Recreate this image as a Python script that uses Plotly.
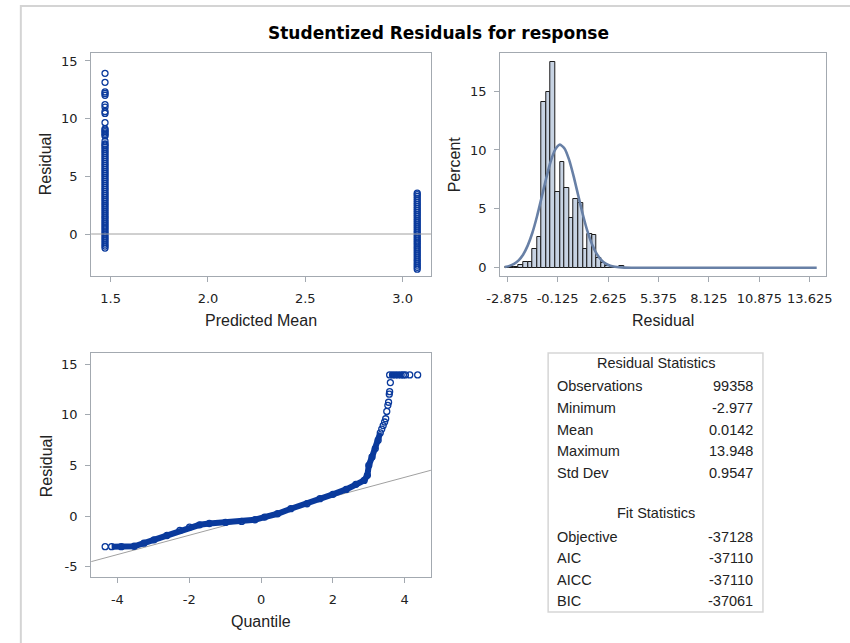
import plotly.graph_objects as go

W, H = 850, 643

# ---------------- data ----------------
pred_mean_levels = [1.471, 3.075]
resid_at_level1 = [-1.22, -1.05, -0.88, -0.70, -0.52, -0.35, -0.18, 0.00, 0.17, 0.35, 0.52, 0.70,
                   0.87, 1.05, 1.22, 1.40, 1.57, 1.75, 1.92, 2.10, 2.27, 2.45, 2.62, 2.80, 2.97,
                   3.15, 3.32, 3.50, 3.67, 3.85, 4.02, 4.20, 4.37, 4.55, 4.72, 4.90, 5.07, 5.25,
                   5.42, 5.60, 5.77, 5.95, 6.12, 6.30, 6.47, 6.65, 6.82, 7.00, 7.17, 7.35, 7.52,
                   7.70, 7.80, 8.05, 8.50, 8.62, 8.75, 8.88, 9.00, 9.12, 9.65, 10.45, 10.62,
                   11.00, 11.22, 12.02, 12.18, 12.32, 13.15, 13.93]
resid_at_level2 = [-3.05, -2.88, -2.70, -2.53, -2.35, -2.18, -2.00, -1.83, -1.65, -1.48, -1.30,
                   -1.13, -0.95, -0.78, -0.60, -0.43, -0.25, -0.08, 0.10, 0.27, 0.45, 0.62, 0.80,
                   0.97, 1.15, 1.32, 1.50, 1.67, 1.85, 2.02, 2.20, 2.37, 2.55, 2.72, 2.90, 3.07,
                   3.25, 3.42, 3.55]

hist_bin_mid = [-2.875, -2.625, -2.375, -2.125, -1.875, -1.625, -1.375, -1.125, -0.875, -0.625,
                -0.375, -0.125, 0.125, 0.375, 0.625, 0.875, 1.125, 1.375, 1.625, 1.875, 2.125,
                2.375, 2.625, 2.875, 3.125, 3.375]
hist_percent = [0.05, 0.08, 0.03, 0.22, 0.45, 0.45, 1.60, 2.63, 14.1, 14.9, 17.5, 6.45, 9.0, 6.74,
                4.2, 5.83, 5.46, 1.58, 2.86, 2.77, 0.79, 0.42, 0.14, 0.0, 0.0, 0.15]
hist_bin_width = 0.25
hist_ticks = [-2.875, -0.125, 2.625, 5.375, 8.125, 10.875, 13.625]

curve_x = [-3.0, -2.75, -2.5, -2.25, -2.0, -1.75, -1.5, -1.25, -1.0, -0.75, -0.5, -0.25, 0.0,
           0.25, 0.5, 0.75, 1.0, 1.25, 1.5, 1.75, 2.0, 2.25, 2.5, 2.75, 3.0, 3.5, 4.0, 14.0]
curve_pct = [0.07, 0.16, 0.33, 0.63, 1.13, 1.90, 2.97, 4.35, 5.94, 7.58, 9.04, 10.05, 10.45,
             10.13, 9.18, 7.76, 6.13, 4.52, 3.11, 2.00, 1.20, 0.67, 0.35, 0.17, 0.08, 0.01, 0.0, 0.0]

qq_band_q = [-4.16, -3.89, -3.53, -3.26, -2.98, -2.62, -2.26, -1.99, -1.71, -1.44, -0.99, -0.54,
             -0.17, 0.10, 0.46, 0.83, 1.28, 1.64, 2.00, 2.37, 2.64, 2.87, 2.96, 3.00, 3.09, 3.18,
             3.26, 3.32]
qq_band_r = [-3.02, -3.02, -2.98, -2.68, -2.35, -1.92, -1.42, -1.09, -0.86, -0.73, -0.63, -0.53,
             -0.36, -0.10, 0.23, 0.73, 1.22, 1.72, 2.15, 2.64, 3.14, 3.53, 4.03, 5.02, 5.85, 6.67,
             7.50, 8.23]
qq_top_q = [3.58, 3.66, 3.74, 3.82, 3.90, 3.96]
qq_top_r = [13.95, 13.95, 13.95, 13.95, 13.95, 13.95]
qq_sparse_q = [-4.34, 3.36, 3.40, 3.44, 3.47, 3.50, 3.53, 3.55, 3.57, 3.58, 3.60, 4.02, 4.14, 4.36]
qq_sparse_r = [-3.02, 8.60, 8.95, 9.30, 9.62, 10.35, 10.95, 11.25, 12.05, 12.30, 13.20, 13.95,
               13.95, 13.95]

resid_mean = 0.0142
resid_std = 0.9547

res_stat_labels = ["Observations", "Minimum", "Mean", "Maximum", "Std Dev"]
res_stat_values = ["99358", "-2.977", "0.0142", "13.948", "0.9547"]
fit_stat_labels = ["Objective", "AIC", "AICC", "BIC"]
fit_stat_values = ["-37128", "-37110", "-37110", "-37061"]

# ---------------- styling ----------------
FONT = "DejaVu Sans"
LAB_FONT = "Liberation Sans"
MARK = "#0a3a9c"
AX = "#a3a9b0"
TICK_FS = 13
TITLE_FS = 16


def px(x):
    return x / W


def py(y):
    return 1 - y / H


fig = go.Figure()

marker = dict(symbol="circle-open", size=6, color=MARK, line=dict(width=1.3, color=MARK))

# panel 1: residual vs predicted mean
fig.add_trace(go.Scatter(x=[pred_mean_levels[0]] * len(resid_at_level1), y=resid_at_level1,
                         mode="markers", marker=marker, xaxis="x", yaxis="y"))
fig.add_trace(go.Scatter(x=[pred_mean_levels[1]] * len(resid_at_level2), y=resid_at_level2,
                         mode="markers", marker=marker, xaxis="x", yaxis="y"))

# panel 2: histogram + normal curve
fig.add_trace(go.Bar(x=hist_bin_mid, y=hist_percent, width=hist_bin_width,
                     marker=dict(color="#c7d3e3", line=dict(color="#1a1a1a", width=1)),
                     xaxis="x2", yaxis="y2"))
fig.add_trace(go.Scatter(x=curve_x, y=curve_pct, mode="lines",
                         line=dict(color="#6880a6", width=2.6, shape="spline", smoothing=0.6),
                         xaxis="x2", yaxis="y2"))

# panel 3: Q-Q plot
qq_xr = [-4.73, 4.73]
fig.add_trace(go.Scatter(x=qq_xr, y=[resid_mean + resid_std * v for v in qq_xr], mode="lines",
                         line=dict(color="#a0a0a0", width=1), xaxis="x3", yaxis="y3"))
fig.add_trace(go.Scatter(x=qq_band_q, y=qq_band_r, mode="lines+markers", marker=marker,
                         line=dict(color=MARK, width=6), xaxis="x3", yaxis="y3"))
fig.add_trace(go.Scatter(x=qq_top_q, y=qq_top_r, mode="lines+markers", marker=marker,
                         line=dict(color=MARK, width=6), xaxis="x3", yaxis="y3"))
fig.add_trace(go.Scatter(x=qq_sparse_q, y=qq_sparse_r, mode="markers", marker=marker,
                         xaxis="x3", yaxis="y3"))


def labels(vals, fmt):
    return [fmt.format(v) for v in vals]


def axis(dom, rng, tickvals, fmt, **kw):
    d = dict(domain=dom, range=rng, showline=True, mirror=True, linecolor=AX, linewidth=1.2,
             ticks="outside", ticklen=5, tickcolor=AX, tickwidth=1, showgrid=False,
             zeroline=False, tickfont=dict(family=FONT, size=TICK_FS, color="#222222"),
             ticklabelstandoff=5, tickvals=tickvals, ticktext=labels(tickvals, fmt))
    d.update(kw)
    return d


xd1 = [px(79), px(427)]
xd2 = [px(498), px(832)]
yd_top = [py(276), py(53)]
yd_bot = [py(577), py(353)]

fig.update_layout(
    width=W, height=H, margin=dict(l=0, r=0, t=0, b=0), autosize=False,
    paper_bgcolor="white", plot_bgcolor="white", showlegend=False, bargap=0,
    xaxis=axis(xd1, [1.3997, 3.1455], [1.5, 2.0, 2.5, 3.0], "{:.1f}", anchor="y"),
    yaxis=axis(yd_top, [-3.64, 15.69], [0, 5, 10, 15], "{:d}", anchor="x"),
    xaxis2=axis(xd2, [-3.25, 14.53], hist_ticks, "{:.3f}", anchor="y2"),
    yaxis2=axis(yd_top, [-0.70, 18.23], [0, 5, 10, 15], "{:d}", anchor="x2"),
    xaxis3=axis(xd1, [-4.73, 4.73], [-4, -2, 0, 2, 4], "{:d}", anchor="y3"),
    yaxis3=axis(yd_bot, [-6.02, 16.12], [-5, 0, 5, 10, 15], "{:d}", anchor="x3"),
)

shapes = []
shapes.append(dict(type="line", xref="x domain", yref="y", x0=0, x1=1, y0=0, y1=0,
                   line=dict(color="#a0a0a0", width=1)))
shapes.append(dict(type="rect", xref="paper", yref="paper", x0=px(7), x1=px(860), y0=py(655),
                   y1=py(6), line=dict(color="#d4d4d4", width=2)))
shapes.append(dict(type="rect", xref="paper", yref="paper", x0=px(547), x1=px(767),
                   y0=py(612), y1=py(353), line=dict(color="#d6d6d6", width=1.5)))
fig.update_layout(shapes=shapes)

ann = []


def text(x, y, s, size, xanchor="center", bold=False, angle=0, family=FONT):
    ann.append(dict(x=px(x), y=py(y), xref="paper", yref="paper", text=f"<b>{s}</b>" if bold else s,
                    showarrow=False, xanchor=xanchor, yanchor="middle", textangle=angle,
                    font=dict(family=family, size=size, color="#000000" if bold else "#222222")))


text(435, 33, "Studentized Residuals for response", 17, bold=True)
text(253, 320, "Predicted Mean", TITLE_FS, family=LAB_FONT)
text(33, 164, "Residual", TITLE_FS, angle=-90, family=LAB_FONT)
text(665, 320, "Residual", TITLE_FS, family=LAB_FONT)
text(452, 164, "Percent", TITLE_FS, angle=-90, family=LAB_FONT)
text(253, 621, "Quantile", TITLE_FS, family=LAB_FONT)
text(33, 466, "Residual", TITLE_FS, angle=-90, family=LAB_FONT)

TF = 14.5
text(657, 363, "Residual Statistics", TF, family=LAB_FONT)
row_y1 = 386.5
for i, (lab, val) in enumerate(zip(res_stat_labels, res_stat_values)):
    yy = row_y1 + i * 21.5
    text(554, yy, lab, TF, xanchor="left", family=LAB_FONT)
    text(759, yy, val, TF, xanchor="right", family=LAB_FONT)
text(657, 512.5, "Fit Statistics", TF, family=LAB_FONT)
row_y2 = 536.5
for i, (lab, val) in enumerate(zip(fit_stat_labels, fit_stat_values)):
    yy = row_y2 + i * 21.5
    text(554, yy, lab, TF, xanchor="left", family=LAB_FONT)
    text(759, yy, val, TF, xanchor="right", family=LAB_FONT)

fig.update_layout(annotations=ann)

fig.write_html("out.html", config={"responsive": False, "displayModeBar": False},
               post_script="document.body.style.margin='0px';"
                           "document.documentElement.style.overflow='hidden';")
